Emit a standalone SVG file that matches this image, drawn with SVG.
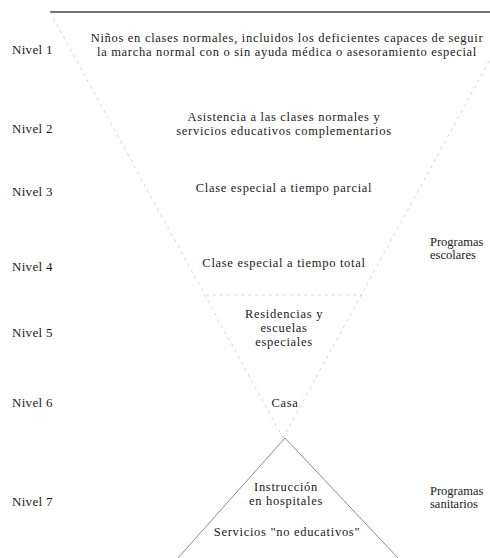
<svg xmlns="http://www.w3.org/2000/svg" width="490" height="558" viewBox="0 0 490 558">
<style>
text{font-family:"Liberation Serif","Times New Roman",serif;font-size:12.5px;fill:#1a1a1a}
.lv{font-size:13px;letter-spacing:0.3px}
.c{text-anchor:middle;letter-spacing:0.7px}
.faint{stroke:#d6d6d6;stroke-width:1;fill:none;stroke-dasharray:3 4}
.tri{stroke:#8a8a8a;stroke-width:1;fill:none}
</style>
<rect width="490" height="558" fill="#fff"/>
<g id="connectors">
<line x1="50" y1="12" x2="490" y2="12" stroke="#444" stroke-width="1.3"/>
<line class="faint" x1="50" y1="12" x2="283" y2="438"/>
<line class="faint" x1="516" y1="12" x2="283" y2="438"/>
<line class="faint" x1="206" y1="295" x2="362" y2="295"/>
<polyline class="tri" points="178,558 285,438 398,558"/>
</g>
<g id="levels">
<text class="lv" x="12" y="54">Nivel 1</text>
<text class="lv" x="12" y="133">Nivel 2</text>
<text class="lv" x="12" y="196">Nivel 3</text>
<text class="lv" x="12" y="271">Nivel 4</text>
<text class="lv" x="12" y="337">Nivel 5</text>
<text class="lv" x="12" y="407">Nivel 6</text>
<text class="lv" x="12" y="506">Nivel 7</text>
</g>
<g id="n1"><text class="c" x="287" y="42">Niños en clases normales, incluidos los deficientes capaces de seguir</text><text class="c" x="287" y="56">la marcha normal con o sin ayuda médica o asesoramiento especial</text></g>
<g id="n2"><text class="c" x="284" y="121">Asistencia a las clases normales y</text><text class="c" x="284" y="135">servicios educativos complementarios</text></g>
<g id="n3"><text class="c" x="284" y="192">Clase especial a tiempo parcial</text></g>
<g id="n4"><text class="c" x="284" y="267">Clase especial a tiempo total</text></g>
<g id="n5"><text class="c" x="284" y="318">Residencias y</text><text class="c" x="284" y="332">escuelas</text><text class="c" x="284" y="346">especiales</text></g>
<g id="n6"><text class="c" x="285" y="407">Casa</text></g>
<g id="n7"><text class="c" x="286" y="491">Instrucción</text><text class="c" x="286" y="505">en hospitales</text></g>
<g id="n8"><text class="c" x="287" y="536">Servicios "no educativos"</text></g>
<g id="p1"><text x="430" y="246">Programas</text><text x="430" y="259">escolares</text></g>
<g id="p2"><text x="430" y="495">Programas</text><text x="430" y="508">sanitarios</text></g>
</svg>
